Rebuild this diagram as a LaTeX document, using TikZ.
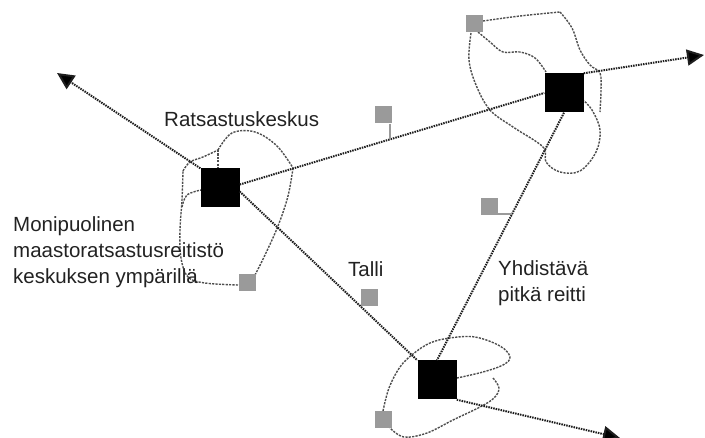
\documentclass[tikz,border=0pt]{standalone}
\usepackage{fontspec}
\setmainfont{Liberation Sans}
\usetikzlibrary{arrows.meta}
\definecolor{txtc}{HTML}{222222}
\definecolor{routec}{HTML}{1E1E1E}
\definecolor{trailc}{HTML}{4E4E4E}
\definecolor{stallc}{HTML}{9A9A9A}
\begin{document}
\begin{tikzpicture}[x=1pt,y=-1pt,
  centre/.style={fill=black, minimum size=39pt, inner sep=0pt, draw=none},
  stall/.style={fill=stallc, minimum size=17pt, inner sep=0pt, draw=none},
  route/.style={draw=routec, line width=2pt, dash pattern=on 1.5pt off 1pt},
  trail/.style={draw=trailc, line width=1.4pt, dash pattern=on 2.2pt off 1.2pt, line join=round},
  stem/.style={draw=stallc, line width=1.4pt},
  arr/.style={route, -{Triangle[length=17pt,width=16pt,fill=black]}},
  lbl/.style={font=\fontsize{20.5}{26}\selectfont, text=txtc, inner sep=0pt, align=left}
]
\useasboundingbox (0,0) rectangle (705,438);

% trails (loops)
\draw[trail] plot[smooth,tension=.6] coordinates {(218,150) (232,133) (255,132) (277,146) (293,168)};
\draw[trail] plot[smooth,tension=.6] coordinates {(293,168) (288,196) (278,226) (265,255) (255,275)};
\draw[trail] plot[smooth,tension=.6] coordinates {(238,285) (205,283) (188,277) (181,258) (180,230) (182,200) (183,171)};
\draw[trail] plot[smooth,tension=.6] coordinates {(183,171) (190,162) (203,157) (218,150)};
\draw[trail] (218,150) -- (218,169);
\draw[trail] plot[smooth,tension=.6] coordinates {(182,207) (187,195) (201,190)};

\draw[trail] plot[smooth,tension=.6] coordinates {(483,21) (520,16) (560,12)};
\draw[trail] plot[smooth,tension=.6] coordinates {(560,12) (572,28) (580,50) (590,65) (600,73) (601,90) (600,112)};
\draw[trail] plot[smooth,tension=.6] coordinates {(478,32) (490,42) (503,52) (520,52) (535,58) (546,72)};
\draw[trail] plot[smooth,tension=.6] coordinates {(471,33) (469,60) (476,85) (490,110) (513,127) (543,147) (546,162) (560,172) (580,171) (596,152) (600,130) (592,110) (583,100)};

\draw[trail] plot[smooth,tension=.6] coordinates {(383,411) (389,388) (400,367) (413,354) (430,343) (450,338) (475,337) (500,346) (510,357) (503,365) (483,372) (457,378)};
\draw[trail] plot[smooth,tension=.6] coordinates {(493,378) (499,388) (494,398) (480,407) (453,420) (427,433) (404,437) (390,428)};

% centres
\node[centre] (L) at (220,188) {};
\node[centre] (TR) at (564,93) {};
\node[centre] (B) at (437,380) {};

% stalls
\node[stall] (g1) at (383,115) {};
\node[stall] (g2) at (474,24) {};
\node[stall] (g3) at (489,207) {};
\node[stall] (g4) at (369,298) {};
\node[stall] (g5) at (247,283) {};
\node[stall] (g6) at (383,420) {};

% routes
\coordinate (tipNW) at (57,73);
\coordinate (tipE) at (704,55);
\coordinate (tipSE) at (620,438);
\coordinate (s1) at (390,139.3);
\coordinate (s3) at (512,214);

\draw[route] (L.10) -- (TR.west);
\draw[route] (L.-10) -- (B.north west);
\draw[route] (TR.south) -- (B.north);
\draw[arr] (L.north west) -- (tipNW);
\draw[arr] (TR.north east) -- (tipE);
\draw[arr] (B.south east) -- (tipSE);

\draw[stem] (g1.south -| s1) -- (s1);
\draw[stem] (g3.east |- s3) -- (s3);

% labels (base = baseline of the last line)
\node[lbl, anchor=base west] (rk) at (164,127) {Ratsastuskeskus};
\node[lbl, anchor=base west] (mp) at (13,284) {Monipuolinen\\maastoratsastusreitistö\\keskuksen ympärillä};
\node[lbl, anchor=base west] (ta) at (348,277) {Talli};
\node[lbl, anchor=base west] (yh) at (498,302) {Yhdistävä\\pitkä reitti};
\end{tikzpicture}
\end{document}
